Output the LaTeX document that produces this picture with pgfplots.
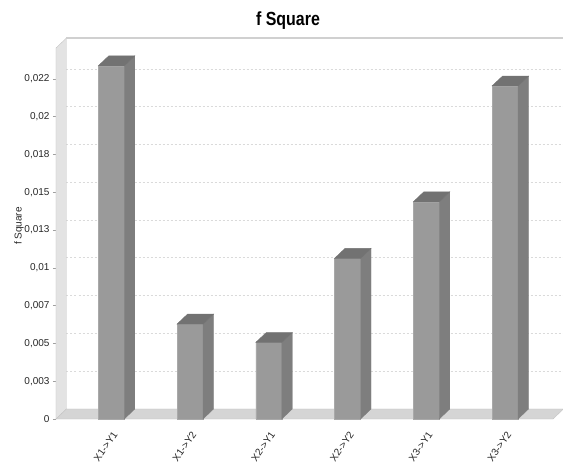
\documentclass[border=0pt]{standalone}
\usepackage{fontspec}
\setmainfont{Liberation Sans}
\newfontfamily\titlefont[FakeStretch=0.84]{Liberation Sans}
\usepackage{pgfplots}
\usepackage{pgfplotstable}
\pgfplotsset{compat=1.18}

\definecolor{barfront}{HTML}{9A9A9A}
\definecolor{barside}{HTML}{7E7E7E}
\definecolor{bartop}{HTML}{727272}
\definecolor{wallfill}{HTML}{E3E3E3}
\definecolor{floorfill}{HTML}{D5D5D5}
\definecolor{walledge}{HTML}{C4C4C4}
\definecolor{gridgray}{HTML}{DADADA}

% f Square effect sizes per path
\pgfplotstableread{
x v
0 0.02337
1 0.00628
2 0.00507
3 0.01063
4 0.01437
5 0.02204
}\fsq

\begin{document}
\begin{tikzpicture}
\path[use as bounding box] (0,0) rectangle (563pt,464pt);
\node[font=\titlefont\bfseries\fontsize{19}{22}\selectfont] at (288pt,443pt) {f Square};
\begin{axis}[
  at={(56pt,45pt)}, anchor=south west,
  scale only axis, width=497pt, height=371pt,
  xmin=-0.702, xmax=5.609, ymin=0, ymax=0.02455,
  clip=false,
  axis lines*=left, axis line style={draw=none,-},
  xtick={0,1,2,3,4,5},
  xticklabels={X1->Y1,X1->Y2,X2->Y1,X2->Y2,X3->Y1,X3->Y2},
  x tick style={draw=none},
  xticklabel style={xshift=6pt, yshift=-8pt, rotate=55, anchor=east},
  ytick={0,0.0025,0.005,0.0075,0.01,0.0125,0.015,0.0175,0.02,0.0225},
  yticklabels={0,{0,003},{0,005},{0,007},{0,01},{0,013},{0,015},{0,018},{0,02},{0,022}},
  y tick style={draw=gray!75, line width=0.6pt},
  tick align=outside, major tick length=3pt,
  ymajorgrids,
  major grid style={draw=gridgray, line width=0.8pt, dash pattern=on 2pt off 2pt, xshift=10.5pt, yshift=10pt},
  tick label style={font=\fontsize{10}{12}\selectfont, text=black!85},
  ylabel={f Square},
  ylabel style={at={(axis description cs:-0.058,0.52)}, anchor=south, rotate=0,
    font=\fontsize{10}{12}\selectfont, text=black!85},
  scaled y ticks=false,
]
% 3D walls: left side wall, floor and the top edge of the back wall
\filldraw[fill=wallfill, draw=walledge] (-0.702,0) -- (-0.569,0.000662) -- (-0.569,0.025212) -- (-0.702,0.02455) -- cycle;
\filldraw[fill=floorfill, draw=walledge] (-0.702,0) -- (5.609,0) -- (5.742,0.000662) -- (-0.569,0.000662) -- cycle;
\draw[walledge!80!white, line width=1.5pt] (-0.569,0.025212) -- (5.742,0.025212);

% front faces of the bars
\addplot[ybar, bar width=0.33, fill=barfront, draw=barfront!85!white, forget plot] table[x=x,y=v]{\fsq};

% side and top faces of the bars
\pgfplotsforeachungrouped \i in {0,...,5}{%
  \pgfplotstablegetelem{\i}{v}\of\fsq
  \let\barv\pgfplotsretval
  \pgfmathsetmacro\xa{\i+0.165}%
  \pgfmathsetmacro\xb{\i+0.165+0.133}%
  \pgfmathsetmacro\xc{\i-0.165}%
  \pgfmathsetmacro\xd{\i-0.165+0.133}%
  \pgfmathsetmacro\vt{\barv+0.000662}%
  \edef\temp{%
    \noexpand\addplot[fill=barside, draw=barside, forget plot] coordinates {(\xa,0) (\xb,0.000662) (\xb,\vt) (\xa,\barv)} -- cycle;
    \noexpand\addplot[fill=bartop, draw=bartop, forget plot] coordinates {(\xc,\barv) (\xd,\vt) (\xb,\vt) (\xa,\barv)} -- cycle;
  }%
  \temp
}
\end{axis}
\end{tikzpicture}
\end{document}
